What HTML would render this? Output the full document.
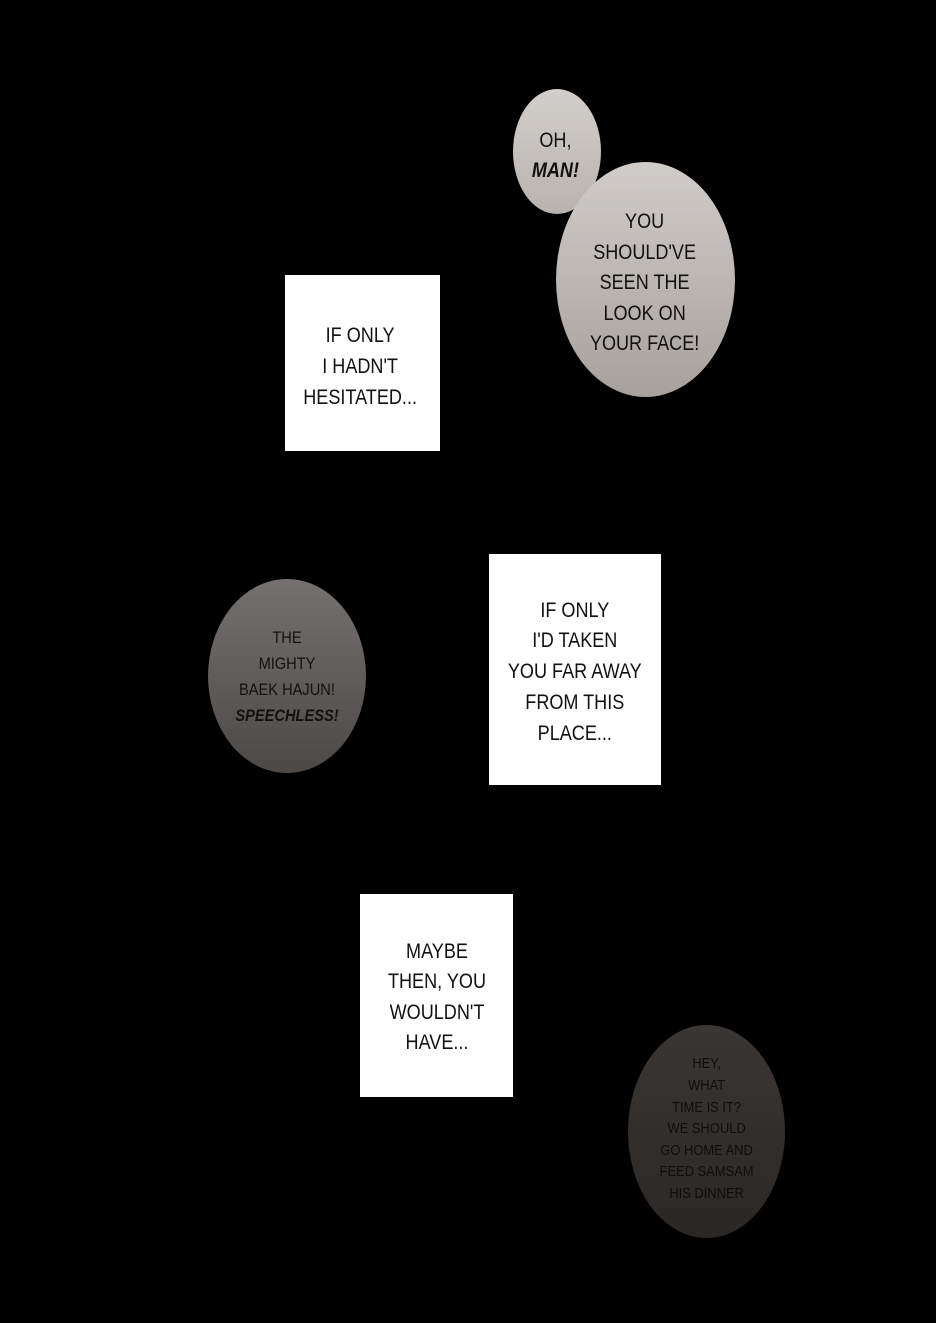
<!DOCTYPE html>
<html><head><style>
body{margin:0;width:936px;height:1323px;background:#000;position:relative;overflow:hidden;font-family:"Liberation Sans",sans-serif;}
.e{position:absolute;border-radius:50%;display:flex;align-items:center;justify-content:center;text-align:center;color:#111;}
.b{position:absolute;background:#fff;display:flex;align-items:center;justify-content:center;text-align:center;color:#111;}
.e>div,.b>div{transform:scaleX(0.86);white-space:nowrap}
i{font-weight:bold}
</style></head><body>
<div class="e" style="left:513px;top:89px;width:88px;height:125px;background:linear-gradient(#d2cecb,#b8b3af);font-size:21px;line-height:30px;">
<div style="margin-left:-3px;margin-top:8px">OH,<br><i>MAN!</i></div></div>
<div class="e" style="left:556px;top:162px;width:179px;height:235px;background:linear-gradient(#d0ccc9,#a7a19d);font-size:21px;line-height:30.5px;">
<div style="margin-left:-2px;margin-top:8px">YOU<br>SHOULD'VE<br>SEEN THE<br>LOOK ON<br>YOUR FACE!</div></div>
<div class="b" style="left:285px;top:275px;width:155px;height:176px;font-size:21px;line-height:31px;"><div style="margin-left:-4px;margin-top:6px">IF ONLY<br>I HADN'T<br>HESITATED...</div></div>
<div class="e" style="left:208px;top:579px;width:158px;height:194px;background:linear-gradient(#757170,#4c4846);font-size:17px;line-height:26px;">
<div style="margin-top:2px">THE<br>MIGHTY<br>BAEK HAJUN!<br><i>SPEECHLESS!</i></div></div>
<div class="b" style="left:489px;top:554px;width:172px;height:231px;font-size:21px;line-height:30.8px;"><div style="margin-top:6px">IF ONLY<br>I'D TAKEN<br>YOU FAR AWAY<br>FROM THIS<br>PLACE...</div></div>
<div class="b" style="left:360px;top:894px;width:153px;height:203px;font-size:21px;line-height:30.5px;"><div style="margin-top:4px">MAYBE<br>THEN, YOU<br>WOULDN'T<br>HAVE...</div></div>
<div class="e" style="left:628px;top:1025px;width:157px;height:213px;background:linear-gradient(#3a3634,#2a2725);font-size:15px;line-height:21.6px;color:#0e0e0e;">
<div style="margin-top:-5px">HEY,<br>WHAT<br>TIME IS IT?<br>WE SHOULD<br>GO HOME AND<br>FEED SAMSAM<br>HIS DINNER</div></div>
</body></html>
